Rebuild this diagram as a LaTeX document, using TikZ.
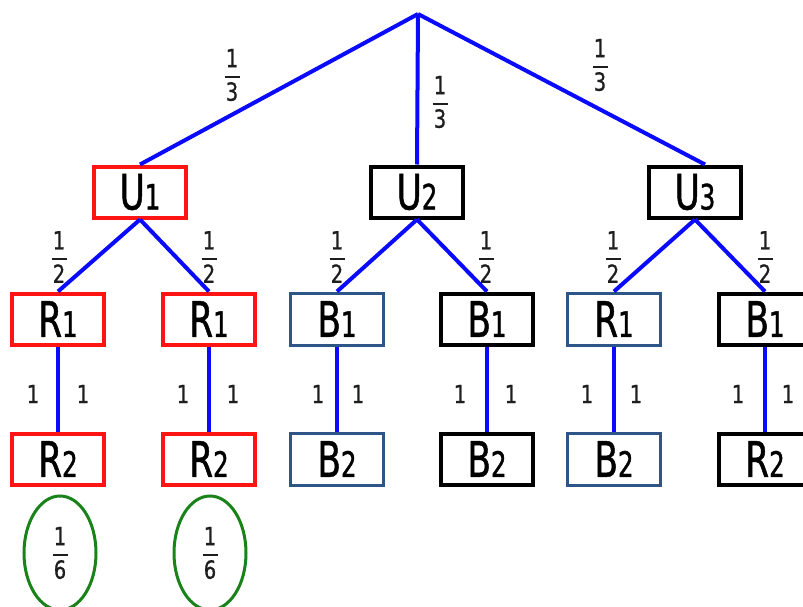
\documentclass[tikz,border=0pt]{standalone}
\usepackage{fontspec}
\usetikzlibrary{shapes.geometric}
\newfontfamily\boxfont[FakeStretch=0.7,FakeBold=1]{DejaVu Sans}
\newfontfamily\labfont[FakeStretch=0.78,FakeBold=0.8]{DejaVu Sans}
\definecolor{lnblue}{RGB}{10,10,255}
\definecolor{bxred}{RGB}{255,20,20}
\definecolor{bxblue}{RGB}{45,85,135}
\definecolor{ovgreen}{RGB}{25,130,25}
\definecolor{txt}{RGB}{30,30,30}
\newcommand\myfrac[2]{\vbox{\offinterlineskip\halign{\hfil##\hfil\cr#1\cr\noalign{\kern9pt}\vrule width 15pt height 2pt depth 0pt\cr\noalign{\kern4pt}#2\cr}}}
\newcommand\bxt[2]{#1{\fontsize{35}{35}\selectfont#2}}
\begin{document}
\begin{tikzpicture}[x=1pt,y=-1pt,
  ln/.style={draw=lnblue,line width=4pt},
  box/.style={draw,line width=4pt,minimum width=92pt,minimum height=51pt,inner sep=0pt,fill=white,
    font=\boxfont\fontsize{49}{49}\selectfont},
  redbox/.style={box,draw=bxred},
  blkbox/.style={box,draw=black},
  bluebox/.style={box,draw=bxblue,line width=3pt,minimum width=93pt,minimum height=52pt},
  lab/.style={inner sep=0pt,text=txt,font=\labfont\fontsize{25}{25}\selectfont},
  one/.style={inner sep=0pt,text=txt,font=\labfont\fontsize{25}{25}\selectfont},
  oval/.style={ellipse,draw=ovgreen,line width=3pt,minimum width=72pt,minimum height=114pt,inner sep=0pt}
]
\useasboundingbox (0,0) rectangle (803,607);
\coordinate (root) at (418,14);
% level 1
\node[redbox] (U1) at (140,192) {\bxt{U}{1}};
\node[blkbox] (U2) at (417,192) {\bxt{U}{2}};
\node[blkbox] (U3) at (695,192) {\bxt{U}{3}};
% level 2
\node[redbox] (A1) at (58,319) {\bxt{R}{1}};
\node[redbox] (A2) at (209,319) {\bxt{R}{1}};
\node[bluebox] (A3) at (337,319) {\bxt{B}{1}};
\node[blkbox] (A4) at (487,319) {\bxt{B}{1}};
\node[bluebox] (A5) at (614,319) {\bxt{R}{1}};
\node[blkbox] (A6) at (765,319) {\bxt{B}{1}};
% level 3
\node[redbox] (C1) at (58,459) {\bxt{R}{2}};
\node[redbox] (C2) at (209,459) {\bxt{R}{2}};
\node[bluebox] (C3) at (337,459) {\bxt{B}{2}};
\node[blkbox] (C4) at (487,459) {\bxt{B}{2}};
\node[bluebox] (C5) at (614,459) {\bxt{B}{2}};
\node[blkbox] (C6) at (765,459) {\bxt{R}{2}};
% connectors
\draw[ln] (root) -- (U1.north);
\draw[ln] (root) -- (U2.north);
\draw[ln] (root) -- ([xshift=10pt]U3.north);
\draw[ln] (U1.south) -- (A1.north);
\draw[ln] (U1.south) -- (A2.north);
\draw[ln] (U2.south) -- (A3.north);
\draw[ln] (U2.south) -- (A4.north);
\draw[ln] (U3.south) -- (A5.north);
\draw[ln] (U3.south) -- (A6.north);
\foreach \i in {1,...,6}{\draw[ln] (A\i.south) -- (C\i.north);}
% labels
\node[lab] (f1) at (232,75) {\myfrac{1}{3}};
\node[lab] (f2) at (440,102) {\myfrac{1}{3}};
\node[lab] (f3) at (600,65) {\myfrac{1}{3}};
\node[lab] (h1) at (59,257) {\myfrac{1}{2}};
\node[lab] (h2) at (209,257) {\myfrac{1}{2}};
\node[lab] (h3) at (337,257) {\myfrac{1}{2}};
\node[lab] (h4) at (486,257) {\myfrac{1}{2}};
\node[lab] (h5) at (613,257) {\myfrac{1}{2}};
\node[lab] (h6) at (765,257) {\myfrac{1}{2}};
\node[one] (o1l) at (33,394) {1};  \node[one] (o1r) at (83,394) {1};
\node[one] (o2l) at (183,394) {1}; \node[one] (o2r) at (233,394) {1};
\node[one] (o3l) at (318,394) {1}; \node[one] (o3r) at (358,394) {1};
\node[one] (o4l) at (460,394) {1}; \node[one] (o4r) at (511,394) {1};
\node[one] (o5l) at (587,394) {1}; \node[one] (o5r) at (636,394) {1};
\node[one] (o6l) at (738,394) {1}; \node[one] (o6r) at (788,394) {1};
% ovals
\node[oval,lab] (e1) at (60,553) {\myfrac{1}{6}};
\node[oval,lab] (e2) at (210,553) {\myfrac{1}{6}};
\end{tikzpicture}
\end{document}
